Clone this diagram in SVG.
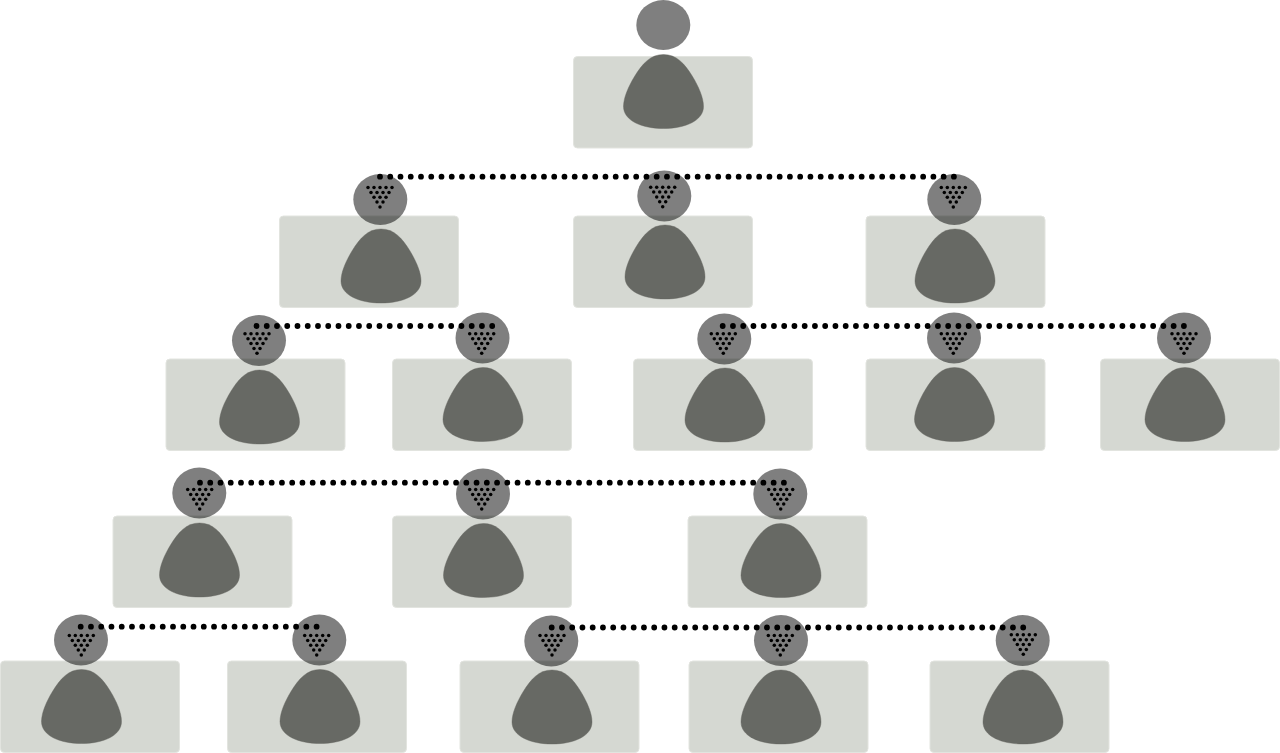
<svg xmlns="http://www.w3.org/2000/svg" width="1280" height="753" viewBox="0 0 1280 753">
<style>
.card{fill:#d5d8d2;stroke:#e2e4df;stroke-width:1}
.body{fill:#676964;stroke:#5f615c;stroke-width:.4}
.head{fill:#000;fill-opacity:.5}
.dots{fill:#000}
.chain{fill:none;stroke:#000;stroke-width:5.8;stroke-linecap:round;stroke-dasharray:0 1}
</style>
<defs>
<rect id="c" class="card" width="179" height="91.500" rx="4"/>
<path id="b" class="body" d="M0,0C13,0 21,9 29,22C35,32 40,43 40,52C40,66 22,74 0,74C-22,74 -40,66 -40,52C-40,43 -35,32 -29,22C-21,9 -13,0 0,0Z"/>
<ellipse id="h" class="head" rx="27" ry="25.500"/>
<g id="t" class="dots">
<circle cx="-12" cy="-19.500" r="1.750"/><circle cx="-6" cy="-19.500" r="1.750"/><circle cx="0" cy="-19.500" r="1.750"/><circle cx="6" cy="-19.500" r="1.750"/><circle cx="12" cy="-19.500" r="1.750"/>
<circle cx="-9" cy="-14.600" r="1.750"/><circle cx="-3" cy="-14.600" r="1.750"/><circle cx="3" cy="-14.600" r="1.750"/><circle cx="9" cy="-14.600" r="1.750"/>
<circle cx="-6" cy="-9.700" r="1.750"/><circle cx="0" cy="-9.700" r="1.750"/><circle cx="6" cy="-9.700" r="1.750"/>
<circle cx="-3" cy="-4.900" r="1.750"/><circle cx="3" cy="-4.900" r="1.750"/>
<circle cx="0" cy="0" r="1.750"/>
</g>
</defs>
<g id="node-root"><use href="#c" x="573.500" y="56.500"/><use href="#b" x="663.500" y="54.500"/><ellipse cx="663.300" cy="25" rx="27" ry="25" class="head"/></g>
<g id="node-1-1"><use href="#c" x="279.500" y="216"/><use href="#b" x="381" y="229"/><use href="#h" x="380.300" y="199.500"/><use href="#t" x="380" y="207"/></g>
<g id="node-1-2"><use href="#c" x="573.500" y="216"/><use href="#b" x="665" y="225"/><use href="#h" x="664.300" y="196"/><use href="#t" x="662.700" y="206.700"/></g>
<g id="node-1-3"><use href="#c" x="866" y="216"/><use href="#b" x="955" y="229"/><use href="#h" x="954.300" y="199.500"/><use href="#t" x="953.300" y="207"/></g>
<g id="node-2-1"><use href="#c" x="166" y="359"/><use href="#b" x="259.500" y="370"/><use href="#h" x="259" y="340.500"/><use href="#t" x="257" y="353.300"/></g>
<g id="node-2-2"><use href="#c" x="392.500" y="359"/><use href="#b" x="483" y="367.500"/><use href="#h" x="482.500" y="338"/><use href="#t" x="481.700" y="353.300"/></g>
<g id="node-2-3"><use href="#c" x="633.500" y="359"/><use href="#b" x="725" y="368"/><use href="#h" x="724.300" y="339"/><use href="#t" x="723.300" y="353.300"/></g>
<g id="node-2-4"><use href="#c" x="866" y="359"/><use href="#b" x="954.500" y="367.500"/><use href="#h" x="954" y="338"/><use href="#t" x="953.300" y="353.300"/></g>
<g id="node-2-5"><use href="#c" x="1100.500" y="359"/><use href="#b" x="1185" y="367.500"/><use href="#h" x="1184" y="338"/><use href="#t" x="1184" y="353.300"/></g>
<g id="node-3-1"><use href="#c" x="113" y="516"/><use href="#b" x="199.500" y="523"/><use href="#h" x="199.300" y="493"/><use href="#t" x="199.700" y="509"/></g>
<g id="node-3-2"><use href="#c" x="392.500" y="516"/><use href="#b" x="483.500" y="523.500"/><use href="#h" x="483" y="494"/><use href="#t" x="481.700" y="509"/></g>
<g id="node-3-3"><use href="#c" x="688" y="516"/><use href="#b" x="781" y="523.500"/><use href="#h" x="780.300" y="494"/><use href="#t" x="780.700" y="509"/></g>
<g id="node-4-1"><use href="#c" x="0.500" y="661"/><use href="#b" x="81.500" y="669.500"/><use href="#h" x="81" y="640"/><use href="#t" x="81.300" y="655"/></g>
<g id="node-4-2"><use href="#c" x="227.500" y="661"/><use href="#b" x="320" y="669.500"/><use href="#h" x="319.300" y="640"/><use href="#t" x="316.700" y="655"/></g>
<g id="node-4-3"><use href="#c" x="460" y="661"/><use href="#b" x="552" y="670"/><use href="#h" x="551.300" y="641"/><use href="#t" x="552" y="655"/></g>
<g id="node-4-4"><use href="#c" x="689" y="661"/><use href="#b" x="781" y="670"/><use href="#h" x="781" y="640.500"/><use href="#t" x="780.300" y="655"/></g>
<g id="node-4-5"><use href="#c" x="930" y="661"/><use href="#b" x="1023" y="670"/><use href="#h" x="1022.700" y="640.500"/><use href="#t" x="1023.300" y="654.300"/></g>
<g id="connectors">
<path class="chain" pathLength="56.010" d="M380,176.700H954"/>
<path class="chain" pathLength="23.010" d="M256.500,326H492.300"/>
<path class="chain" pathLength="45.010" d="M722.700,326H1184"/>
<path class="chain" pathLength="57.010" d="M200,482.700H784"/>
<path class="chain" pathLength="23.010" d="M80.700,626.700H316.700"/>
<path class="chain" pathLength="46.010" d="M551.700,627.500H1023.300"/>
</g>
</svg>
